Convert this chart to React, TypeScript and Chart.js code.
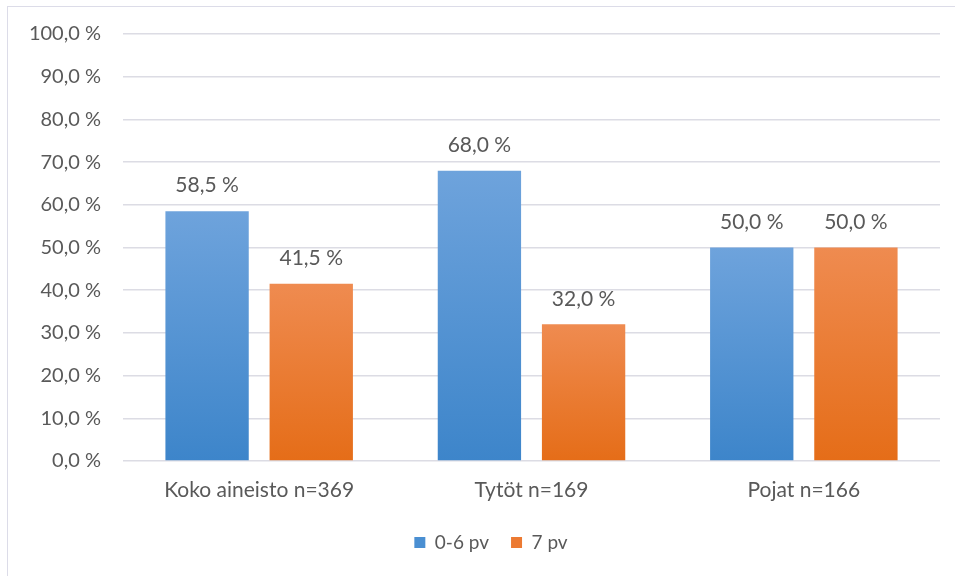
import React, { useEffect, useRef } from "react";
import { Chart, registerables } from "chart.js";

Chart.register(...registerables);

const categories = ["Koko aineisto n=369", "Tytöt n=169", "Pojat n=166"];
const series1Label = "0-6 pv";
const series2Label = "7 pv";
const series1Values = [58.5, 68.0, 50.0];
const series2Values = [41.5, 32.0, 50.0];
const yTicks = [0, 10, 20, 30, 40, 50, 60, 70, 80, 90, 100];

const FONT = "Lato, 'Open Sans', sans-serif";
const TEXT = "#595959";

const fmt = (v: number) => v.toFixed(1).replace(".", ",") + " %";

function barGradient(top: string, bottom: string) {
  return (ctx: any) => {
    const chart = ctx.chart;
    const y = chart.scales && chart.scales.y;
    if (!y || ctx.type !== "data") return bottom;
    const v = ctx.raw as number;
    const y0 = y.getPixelForValue(v);
    const y1 = y.getPixelForValue(0);
    if (!isFinite(y0) || !isFinite(y1) || y0 === y1) return bottom;
    const g = chart.ctx.createLinearGradient(0, y0, 0, y1);
    g.addColorStop(0, top);
    g.addColorStop(1, bottom);
    return g;
  };
}

const dataLabelPlugin = {
  id: "dataLabels",
  afterDatasetsDraw(chart: any) {
    const ctx = chart.ctx;
    ctx.save();
    ctx.font = `21px ${FONT}`;
    ctx.fillStyle = TEXT;
    ctx.textAlign = "center";
    ctx.textBaseline = "bottom";
    chart.data.datasets.forEach((ds: any, i: number) => {
      const meta = chart.getDatasetMeta(i);
      meta.data.forEach((bar: any, j: number) => {
        ctx.fillText(fmt(ds.data[j]), bar.x, bar.y - 15);
      });
    });
    ctx.restore();
  },
};

const legendShiftPlugin = {
  id: "legendShift",
  afterLayout(chart: any) {
    if (chart.legend) chart.legend.left += 42;
  },
};

export default function App() {
  const ref = useRef<HTMLCanvasElement>(null);
  useEffect(() => {
    if (!ref.current) return;
    const chart = new Chart(ref.current, {
      type: "bar",
      data: {
        labels: categories,
        datasets: [
          {
            label: series1Label,
            data: series1Values,
            backgroundColor: barGradient("#6ea3dc", "#3d85ca"),
            borderWidth: 0,
          },
          {
            label: series2Label,
            data: series2Values,
            backgroundColor: barGradient("#ef8b50", "#e56d18"),
            borderWidth: 0,
          },
        ],
      },
      options: {
        animation: false,
        responsive: false,
        maintainAspectRatio: false,
        datasets: { bar: { categoryPercentage: 0.765, barPercentage: 0.8 } },
        layout: { padding: { top: 34, left: 0, right: 15, bottom: 14 } },
        plugins: {
          tooltip: { enabled: false },
          legend: {
            position: "bottom",
            labels: {
              color: TEXT,
              font: { family: FONT, size: 19 },
              boxWidth: 11,
              boxHeight: 11,
              padding: 22,
              generateLabels: (chart: any) =>
                chart.data.datasets.map((ds: any, i: number) => ({
                  text: ds.label,
                  fillStyle: i === 0 ? "#4a8fd2" : "#ec7a32",
                  strokeStyle: "transparent",
                  lineWidth: 0,
                  datasetIndex: i,
                  fontColor: TEXT,
                })),
            },
          },
        },
        scales: {
          x: {
            grid: { display: false, drawTicks: false },
            border: { display: false },
            ticks: {
              color: TEXT,
              font: { family: FONT, size: 21 },
              padding: 17,
            },
            afterFit: (s: any) => {
              s.height = 50;
            },
          },
          y: {
            min: 0,
            max: 100,
            afterBuildTicks: (s: any) => {
              s.ticks = yTicks.map((v) => ({ value: v }));
            },
            grid: { color: "#dcdce4", lineWidth: 1.5, drawTicks: false },
            border: { display: false },
            ticks: {
              color: TEXT,
              font: { family: FONT, size: 20 },
              padding: 22,
              callback: (v: any) => fmt(Number(v)),
            },
            afterFit: (s: any) => {
              s.width = 123;
            },
          },
        },
      },
      plugins: [dataLabelPlugin, legendShiftPlugin],
    });
    return () => chart.destroy();
  }, []);
  return (
    <div style={{ position: "fixed", left: 0, top: 0, width: 955, height: 576, background: "#fff", overflow: "hidden" }}>
      <div
        style={{
          position: "absolute",
          left: 7,
          top: 6,
          width: 1000,
          height: 1000,
          border: "1.5px solid #dcdce8",
          boxSizing: "border-box",
        }}
      />
      <canvas ref={ref} width={955} height={576} style={{ position: "absolute", left: 0, top: 0 }} />
    </div>
  );
}
